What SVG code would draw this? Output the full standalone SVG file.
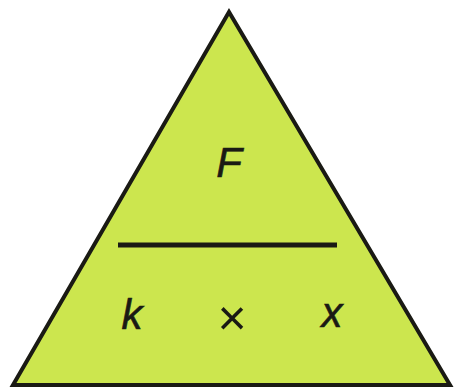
<svg xmlns="http://www.w3.org/2000/svg" width="454" height="388" viewBox="0 0 454 388">
<style>
.tri{fill:#cce64e;stroke:#1a1a14;stroke-width:4;stroke-linejoin:miter}
.bar{stroke:#1a1a14;stroke-width:5;stroke-linecap:butt}
.t{font-family:"Liberation Sans",Arial,sans-serif;font-size:42px;fill:#1a1a14;text-anchor:middle;stroke:#1a1a14;stroke-width:0.6}
.i{font-style:italic}
</style>
<rect width="454" height="388" fill="#ffffff"/>
<g id="triangle">
<polygon class="tri" points="229,12 13,385 450,385"/>
</g>
<g id="connectors">
<line class="bar" x1="118" y1="245" x2="337" y2="245"/>
</g>
<g id="node-F"><text class="t i" x="229" y="177">F</text></g>
<g id="node-k"><text class="t i" x="132" y="329">k</text></g>
<g id="node-times"><text class="t" x="232" y="335" style="font-size:50px;stroke-width:0">×</text></g>
<g id="node-x"><text class="t i" x="332" y="327">x</text></g>
</svg>
